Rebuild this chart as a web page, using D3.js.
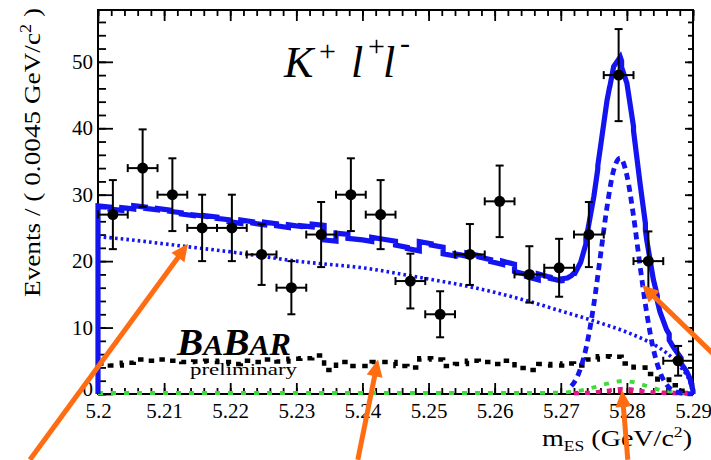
<!DOCTYPE html>
<html>
<head>
<meta charset="utf-8">
<script src="https://cdn.jsdelivr.net/npm/d3@7"></script>
<style>
  html, body { margin: 0; padding: 0; background: #ffffff; }
  svg { display: block; }
  text { font-family: "Liberation Serif", "Times New Roman", serif; fill: #000; }
</style>
</head>
<body>
<svg id="chart" width="711" height="460"></svg>
<script>
// ---- Data: m_ES distribution for B -> K+ l+ l- ----
const binHalfWidth = 0.00225;
const binCenters = [5.20225, 5.20675, 5.21125, 5.21575, 5.22025, 5.22475, 5.22925, 5.23375,
                    5.23825, 5.24275, 5.24725, 5.25175, 5.25625, 5.26075, 5.26525, 5.26975,
                    5.27425, 5.27875, 5.28325, 5.28775];
const eventCounts = [27, 34, 30, 25, 25, 21, 16, 24, 30, 27, 17, 12, 21, 29, 18, 19, 24, 48, 20, 5];

// Combinatorial (ARGUS) background, dotted
const argusMass   = [5.200, 5.205, 5.210, 5.215, 5.220, 5.225, 5.230, 5.235, 5.240, 5.245, 5.250, 5.255,
                     5.260, 5.265, 5.270, 5.275, 5.280, 5.283, 5.285, 5.287, 5.288, 5.289, 5.2895, 5.290];
const argusValues = [23.7, 23.2, 22.6, 22.0, 21.4, 20.7, 20.0, 19.5, 19.0, 18.2, 17.3, 16.4,
                     15.3, 14.0, 12.5, 11.0, 9.3, 8.0, 6.9, 5.3, 4.2, 2.9, 1.9, 0];

// Peaking background histogram (50 bins), black dashed
const peakBinLow = 5.2;
const peakBinWidth = 0.0018;
const peakingValues = [4.6, 4.3, 4.7, 5.2, 5.0, 5.2, 5.0, 4.8, 4.9, 5.0,
                       4.8, 4.5, 5.0, 4.8, 5.2, 4.9, 5.3, 5.4, 5.8, 3.6,
                       4.8, 4.2, 4.2, 4.8, 4.8, 4.2, 4.0, 5.4, 5.2, 4.2,
                       4.5, 5.0, 4.8, 4.5, 5.0, 3.9, 3.6, 4.5, 4.3, 4.6,
                       4.3, 5.2, 5.7, 5.6, 4.6, 4.0, 3.0, 2.2, 1.3, 0.5];

// Signal component, blue dashed
const sigMass   = [5.260, 5.266, 5.268, 5.270, 5.271, 5.2716, 5.272, 5.273, 5.274, 5.275, 5.276, 5.277,
                   5.278, 5.279, 5.280, 5.281, 5.282, 5.283, 5.284, 5.285, 5.286, 5.287, 5.288, 5.289, 5.290];
const sigValues = [0, 0.03, 0.1, 0.23, 0.66, 1.2, 1.7, 3.9, 7.7, 13.5, 20.8, 28.2,
                   33.7, 35.5, 32.9, 26.8, 19.2, 12.2, 6.8, 3.3, 1.4, 0.5, 0.18, 0.05, 0.01];
const sigDrawFrom = 5.2716;

// Small peaking contributions near the signal region
const greenMass   = [5.200, 5.265, 5.270, 5.272, 5.274, 5.276, 5.278, 5.2795, 5.281, 5.283, 5.285, 5.287, 5.289, 5.290];
const greenValues = [0.15, 0.15, 0.2, 0.35, 0.7, 1.3, 1.8, 2.0, 1.8, 1.2, 0.6, 0.3, 0.15, 0.1];
const magentaMass   = [5.272, 5.274, 5.277, 5.2795, 5.282, 5.285, 5.290];
const magentaValues = [0.05, 0.15, 0.5, 0.8, 0.5, 0.15, 0.05];
const redMass   = [5.272, 5.277, 5.2795, 5.283, 5.290];
const redValues = [0.2, 0.3, 0.35, 0.3, 0.2];

// Axis ticks and labels
const xTicks = [5.20, 5.21, 5.22, 5.23, 5.24, 5.25, 5.26, 5.27, 5.28, 5.29];
const xTickLabels = ["5.2", "5.21", "5.22", "5.23", "5.24", "5.25", "5.26", "5.27", "5.28", "5.29"];
const yTicks = [0, 10, 20, 30, 40, 50];
const yTickLabels = ["0", "10", "20", "30", "40", "50"];

// Annotation arrows: [tail mass, tail events, tip mass, tip events]
const arrows = [
  [5.1897, -9.9, 5.21361, 22.6],
  [5.2393, -9.9, 5.24235, 5.2],
  [5.28014, -9.9, 5.27926, 0.6],
  [5.29560, 3.6, 5.28229, 16.4]
];

// ---- Layout ----
const plotLeft = 98, plotRight = 693, plotTop = 10, plotBottom = 394;
const svg = d3.select("#chart");

const x = d3.scaleLinear().domain([5.2, 5.29]).range([plotLeft, plotRight]);
const y = d3.scaleLinear().domain([0, 57.8]).range([plotBottom, plotTop]);

const blue = "#1414f0";
const orange = "#ff6c12";

// ---- Frame ----
svg.append("rect").attr("x", plotLeft).attr("y", plotTop)
  .attr("width", plotRight - plotLeft).attr("height", plotBottom - plotTop)
  .attr("fill", "none").attr("stroke", "#000").attr("stroke-width", 2);

// ---- Axes (ticks point into the frame) ----
function styleAxis(g) {
  g.select(".domain").remove();
  g.selectAll(".tick line").attr("stroke", "#000").attr("stroke-width", 1.8);
  g.selectAll(".tick text").attr("font-family", "'Liberation Serif', 'Times New Roman', serif")
    .attr("font-size", 21).attr("fill", "#000");
}
const xMinor = d3.range(0, 46).map(i => 5.2 + i * 0.002);
const yMinor = d3.range(0, 29).map(i => i * 2);

svg.append("g").attr("transform", `translate(0,${plotBottom})`)
  .call(d3.axisBottom(x).tickValues(xMinor).tickSizeInner(-6).tickSizeOuter(0).tickFormat(""))
  .call(styleAxis);
svg.append("g").attr("transform", `translate(0,${plotBottom})`)
  .call(d3.axisBottom(x).tickValues(xTicks).tickSizeInner(-11).tickSizeOuter(0).tickPadding(9)
        .tickFormat((d, i) => xTickLabels[i]))
  .call(styleAxis);
svg.append("g").attr("transform", `translate(0,${plotTop})`)
  .call(d3.axisTop(x).tickValues(xMinor).tickSizeInner(-6).tickSizeOuter(0).tickFormat(""))
  .call(styleAxis);
svg.append("g").attr("transform", `translate(0,${plotTop})`)
  .call(d3.axisTop(x).tickValues(xTicks).tickSizeInner(-11).tickSizeOuter(0).tickFormat(""))
  .call(styleAxis);

svg.append("g").attr("transform", `translate(${plotLeft},0)`)
  .call(d3.axisLeft(y).tickValues(yMinor).tickSizeInner(-8).tickSizeOuter(0).tickFormat(""))
  .call(styleAxis);
const yAxisG = svg.append("g").attr("transform", `translate(${plotLeft},0)`)
  .call(d3.axisLeft(y).tickValues(yTicks).tickSizeInner(-15).tickSizeOuter(0).tickPadding(5)
        .tickFormat((d, i) => yTickLabels[i]))
  .call(styleAxis);
// the zero label sits slightly higher so it clears the mass labels
yAxisG.selectAll(".tick text").filter(d => d === 0).attr("dy", "0.05em");
svg.append("g").attr("transform", `translate(${plotRight},0)`)
  .call(d3.axisRight(y).tickValues(yMinor).tickSizeInner(-5).tickSizeOuter(0).tickFormat(""))
  .call(styleAxis);
svg.append("g").attr("transform", `translate(${plotRight},0)`)
  .call(d3.axisRight(y).tickValues(yTicks).tickSizeInner(-8).tickSizeOuter(0).tickFormat(""))
  .call(styleAxis);

// ---- Fit components ----
const lineLin = d3.line().x(d => x(d[0])).y(d => y(d[1]));
const lineSmooth = d3.line().x(d => x(d[0])).y(d => y(d[1])).curve(d3.curveMonotoneX);

// peaking background as a step histogram
const peakPts = [];
peakingValues.forEach((v, i) => {
  const lo = peakBinLow + i * peakBinWidth;
  peakPts.push([lo, v], [lo + peakBinWidth, v]);
});

svg.append("path").attr("d", lineLin(greenMass.map((m, i) => [m, greenValues[i]])))
  .attr("fill", "none").attr("stroke", "#3ddc3d").attr("stroke-width", 3.8).attr("stroke-dasharray", "5,8");
svg.append("path").attr("d", lineLin(redMass.map((m, i) => [m, redValues[i]])))
  .attr("fill", "none").attr("stroke", "#cc1f44").attr("stroke-width", 3.5).attr("stroke-dasharray", "4,7");
svg.append("path").attr("d", lineSmooth(magentaMass.map((m, i) => [m, magentaValues[i]])))
  .attr("fill", "none").attr("stroke", "#e0188c").attr("stroke-width", 3.8).attr("stroke-dasharray", "5,6");

svg.append("path").attr("d", lineLin(peakPts))
  .attr("fill", "none").attr("stroke", "#000").attr("stroke-width", 4.5).attr("stroke-dasharray", "5.5,6.5");

svg.append("path").attr("d", lineSmooth(argusMass.map((m, i) => [m, argusValues[i]])))
  .attr("fill", "none").attr("stroke", blue).attr("stroke-width", 3.6).attr("stroke-dasharray", "2.6,3.1");

svg.append("path")
  .attr("d", lineSmooth(sigMass.map((m, i) => [m, sigValues[i]]).filter(d => d[0] >= sigDrawFrom)))
  .attr("fill", "none").attr("stroke", blue).attr("stroke-width", 4.8).attr("stroke-dasharray", "7,5");

// total fit = combinatorial + peaking + signal
const argusAt = d3.scaleLinear().domain(argusMass).range(argusValues).clamp(true);
const sigAt = d3.scaleLinear().domain(sigMass).range(sigValues).clamp(true);
const totalPts = [[5.2, 0]];
peakingValues.forEach((v, i) => {
  const lo = peakBinLow + i * peakBinWidth, hi = lo + peakBinWidth;
  const inside = sigMass.concat(argusMass).filter(m => m > lo + 1e-9 && m < hi - 1e-9);
  const ms = [lo].concat(inside.sort((a, b) => a - b), [hi]);
  ms.forEach(m => totalPts.push([m, argusAt(m) + v + sigAt(m)]));
});
totalPts.push([5.29, 0]);
svg.append("path").attr("d", lineLin(totalPts))
  .attr("fill", "none").attr("stroke", blue).attr("stroke-width", 5.2).attr("stroke-linejoin", "miter");

// ---- Data points with error bars ----
const pts = svg.append("g");
binCenters.forEach((m, i) => {
  const n = eventCounts[i], e = Math.sqrt(n);
  const cx = x(m), cy = y(n);
  const g = pts.append("g").attr("stroke", "#000").attr("stroke-width", 2);
  g.append("line").attr("x1", cx).attr("x2", cx).attr("y1", y(n - e)).attr("y2", y(n + e));
  g.append("line").attr("x1", cx - 4).attr("x2", cx + 4).attr("y1", y(n - e)).attr("y2", y(n - e));
  g.append("line").attr("x1", cx - 4).attr("x2", cx + 4).attr("y1", y(n + e)).attr("y2", y(n + e));
  g.append("line").attr("x1", x(m - binHalfWidth)).attr("x2", x(m + binHalfWidth)).attr("y1", cy).attr("y2", cy);
  g.append("line").attr("x1", x(m - binHalfWidth)).attr("x2", x(m - binHalfWidth)).attr("y1", cy - 4).attr("y2", cy + 4);
  g.append("line").attr("x1", x(m + binHalfWidth)).attr("x2", x(m + binHalfWidth)).attr("y1", cy - 4).attr("y2", cy + 4);
  pts.append("circle").attr("cx", cx).attr("cy", cy).attr("r", 5.5).attr("fill", "#000");
});

// ---- Axis titles ----
const yTitle = svg.append("text")
  .attr("transform", `translate(40,8) rotate(-90)`)
  .attr("text-anchor", "end").attr("font-size", 24)
  .attr("textLength", 289).attr("lengthAdjust", "spacingAndGlyphs");
yTitle.append("tspan").text("Events / ( 0.0045 GeV/c");
yTitle.append("tspan").attr("font-size", 16).attr("dy", -9).text("2");
yTitle.append("tspan").attr("dy", 9).text(" )");

const xTitle = svg.append("text")
  .attr("x", 692).attr("y", 446).attr("text-anchor", "end").attr("font-size", 24)
  .attr("textLength", 150).attr("lengthAdjust", "spacingAndGlyphs");
xTitle.append("tspan").text("m");
xTitle.append("tspan").attr("font-size", 15).attr("dy", 5).text("ES");
xTitle.append("tspan").attr("dy", -5).text(" (GeV/c");
xTitle.append("tspan").attr("font-size", 15).attr("dy", -9).text("2");
xTitle.append("tspan").attr("dy", 9).text(")");

// ---- Decay label ----
const title = svg.append("text").attr("y", 77).attr("font-size", 44).attr("font-style", "italic");
title.append("tspan").attr("x", 284).text("K");
title.append("tspan").attr("x", 319).attr("font-size", 30).attr("font-style", "normal").attr("dy", -16).text("+");
title.append("tspan").attr("x", 351).attr("dy", 16).text("l");
title.append("tspan").attr("x", 368).attr("font-size", 30).attr("font-style", "normal").attr("dy", -21).text("+");
title.append("tspan").attr("x", 383).attr("dy", 21).text("l");
title.append("tspan").attr("x", 400).attr("font-size", 30).attr("font-style", "normal").attr("dy", -24).text("-");

// ---- Experiment logo ----
const logo = svg.append("text").attr("x", 177).attr("y", 355)
  .attr("font-weight", "bold").attr("font-style", "italic").attr("font-size", 38)
  .attr("textLength", 114).attr("lengthAdjust", "spacingAndGlyphs");
logo.append("tspan").text("B");
logo.append("tspan").attr("font-size", 29).text("A");
logo.append("tspan").text("B");
logo.append("tspan").attr("font-size", 29).text("A");
logo.append("tspan").attr("font-size", 31).text("R");
svg.append("text").attr("x", 190).attr("y", 375)
  .attr("font-family", "'Liberation Sans', Arial, sans-serif").attr("font-size", 17)
  .attr("textLength", 107).attr("lengthAdjust", "spacingAndGlyphs").text("preliminary");

// ---- Annotation arrows ----
const arrowG = svg.append("g");
arrows.forEach(([m0, v0, m1, v1]) => {
  const ax = x(m0), ay = y(v0), bx = x(m1), by = y(v1);
  const len = Math.hypot(bx - ax, by - ay);
  const ux = (bx - ax) / len, uy = (by - ay) / len;
  const headLen = 17, headHalf = 8;
  const baseX = bx - ux * headLen, baseY = by - uy * headLen;
  arrowG.append("line").attr("x1", ax).attr("y1", ay).attr("x2", baseX + ux * 2).attr("y2", baseY + uy * 2)
    .attr("stroke", orange).attr("stroke-width", 5);
  arrowG.append("path")
    .attr("d", `M${bx},${by}L${baseX - uy * headHalf},${baseY + ux * headHalf}L${baseX + uy * headHalf},${baseY - ux * headHalf}Z`)
    .attr("fill", orange);
});
</script>
</body>
</html>
